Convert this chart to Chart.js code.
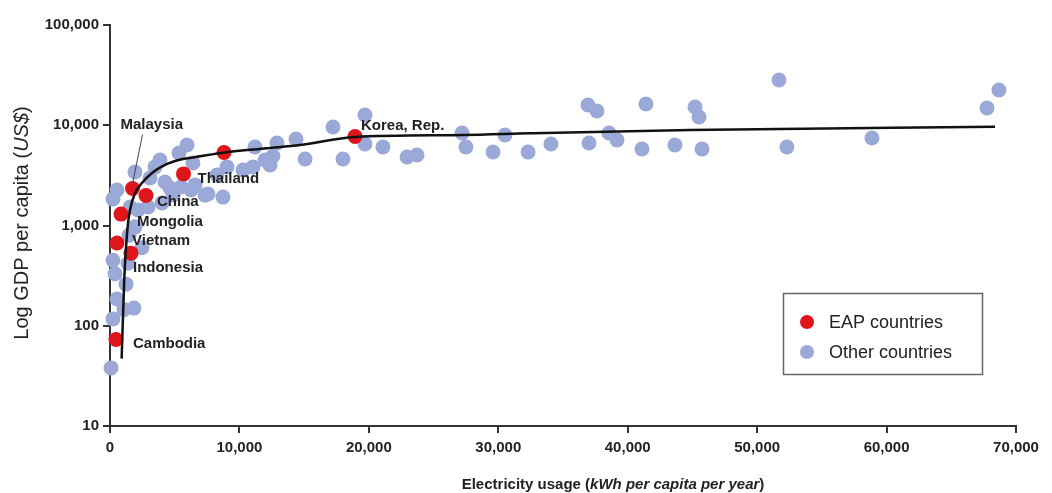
<!DOCTYPE html>
<html>
<head>
<meta charset="utf-8">
<script src="https://cdn.jsdelivr.net/npm/chart.js@4/dist/chart.umd.min.js"></script>
<style>
  body { margin: 0; background: #fff; }
  canvas { display: block; }
</style>
</head>
<body>
<canvas id="myChart" width="1052" height="493"></canvas>
<script>
// data
const eapNames = ['Cambodia', 'Vietnam', 'Indonesia', 'Mongolia', 'Malaysia', 'China', 'Thailand', '', 'Korea, Rep.'];
const eapX = [460, 540, 1620, 850, 1740, 2780, 5680, 8810, 18930];
const eapY = [73, 670, 530, 1300, 2340, 1990, 3270, 5350, 7730];

const otherX = [17230, 18000, 19700, 19700, 21090, 22950, 23720, 27200, 27500, 29590,
  30520, 32300, 34070, 36930, 37630, 37010, 38550, 39170, 41100, 41410,
  43650, 45200, 45510, 45740, 51690, 52300, 58870, 67760, 68680,
  15070, 14370, 12900, 12590, 12360, 11200, 11050, 10280, 8730, 7340,
  8270, 9040, 11980, 5950, 5330, 3860, 3480, 1930, 540, 230,
  1550, 2160, 2940, 4020, 4870, 5490, 6570, 7570, 4250, 6410,
  3090, 4640, 6260, 1930, 1470, 230, 390, 1240, 540, 1850,
  1080, 230, 80, 2470, 1390];
const otherY = [9620, 4600, 12650, 6500, 6070, 4820, 5050, 8380, 6070, 5410,
  8000, 5410, 6500, 15920, 13870, 6650, 8380, 7130, 5800, 16290,
  6350, 15210, 12080, 5800, 28250, 6070, 7460, 14860, 22490,
  4600, 7300, 6650, 4930, 4020, 6070, 3840, 3580, 1920, 2010,
  3190, 3840, 4500, 6350, 5290, 4500, 3840, 3420, 2260, 1840,
  1530, 1430, 1530, 1680, 2010, 2420, 2540, 2060, 2720, 4200,
  2980, 2370, 2260, 970, 800, 450, 330, 260, 185, 150,
  145, 117, 38, 600, 420];

// fitted curve
const fitX = [900, 1100, 1340, 1545, 1930, 2450, 3220, 4250, 5540, 7085, 8885, 12100, 14680, 18930, 27270, 32450, 44800, 68380];
const fitY = [47, 286, 902, 1430, 2094, 2636, 3318, 4018, 4571, 4932, 5346, 5888, 6353, 7650, 7998, 8318, 8974, 9680];

const xTicks = [0, 10000, 20000, 30000, 40000, 50000, 60000, 70000];
const yTicks = [10, 100, 1000, 10000, 100000];

const FONT = '"Liberation Sans", Arial, sans-serif';
const RED = 'rgb(222,22,28)';
const BLUE = 'rgb(155,169,216)';

// label offsets from their dot, in px
const labelOffsets = {
  'Cambodia': [17, 4],
  'Vietnam': [15, -2],
  'Indonesia': [2, 15],
  'Mongolia': [16, 8],
  'Malaysia': [-12, -64],
  'China': [11, 6],
  'Thailand': [14, 5],
  'Korea, Rep.': [6, -11]
};

function pts(xs, ys) {
  return xs.map((v, i) => ({ x: v, y: ys[i] }));
}

const annotate = {
  id: 'annotate',
  afterDatasetsDraw(chart) {
    const { ctx, scales: { x, y } } = chart;
    ctx.save();
    ctx.fillStyle = '#222';
    ctx.font = 'bold 15px ' + FONT;
    ctx.textBaseline = 'middle';
    ctx.textAlign = 'left';
    eapNames.forEach((name, i) => {
      if (!name) return;
      const px = x.getPixelForValue(eapX[i]);
      const py = y.getPixelForValue(eapY[i]);
      const o = labelOffsets[name];
      ctx.fillText(name, px + o[0], py + o[1]);
      if (name === 'Malaysia') {
        ctx.strokeStyle = '#444';
        ctx.lineWidth = 1;
        ctx.beginPath();
        ctx.moveTo(px + 10, py - 54);
        ctx.lineTo(px, py - 5);
        ctx.stroke();
      }
    });
    ctx.restore();
  },
  afterDraw(chart) {
    const ctx = chart.ctx;
    ctx.save();
    ctx.fillStyle = '#222';
    ctx.textBaseline = 'middle';
    ctx.textAlign = 'left';

    // x title
    let parts = [['bold 15px ', 'Electricity usage ('], ['italic bold 15px ', 'kWh per capita per year'], ['bold 15px ', ')']];
    let w = 0;
    parts.forEach(p => { ctx.font = p[0] + FONT; w += ctx.measureText(p[1]).width; });
    let cx = 613 - w / 2;
    parts.forEach(p => { ctx.font = p[0] + FONT; ctx.fillText(p[1], cx, 485); cx += ctx.measureText(p[1]).width; });

    // y title
    ctx.translate(22, 223);
    ctx.rotate(-Math.PI / 2);
    parts = [['20px ', 'Log GDP per capita ('], ['italic 20px ', 'US$'], ['20px ', ')']];
    w = 0;
    parts.forEach(p => { ctx.font = p[0] + FONT; w += ctx.measureText(p[1]).width; });
    cx = -w / 2;
    parts.forEach(p => { ctx.font = p[0] + FONT; ctx.fillText(p[1], cx, 0); cx += ctx.measureText(p[1]).width; });
    ctx.restore();

    // legend box
    ctx.save();
    ctx.strokeStyle = '#666';
    ctx.lineWidth = 1.5;
    ctx.strokeRect(783.5, 293.5, 199, 81);
    const items = [[chart.data.datasets[1].label, RED, 322], [chart.data.datasets[2].label, BLUE, 352]];
    ctx.font = '18px ' + FONT;
    ctx.textBaseline = 'middle';
    items.forEach(it => {
      ctx.fillStyle = it[1];
      ctx.beginPath();
      ctx.arc(807, it[2], 7, 0, Math.PI * 2);
      ctx.fill();
      ctx.fillStyle = '#222';
      ctx.fillText(it[0], 829, it[2] + 1);
    });
    ctx.restore();
  }
};

const ctx = document.getElementById('myChart').getContext('2d');
const myChart = new Chart(ctx, {
  type: 'scatter',
  data: {
    datasets: [{
      type: 'line',
      label: 'Fit',
      data: pts(fitX, fitY),
      borderColor: '#111',
      borderWidth: 2.5,
      pointRadius: 0,
      cubicInterpolationMode: 'monotone',
      fill: false,
      clip: false,
      order: 0
    }, {
      label: 'EAP countries',
      data: pts(eapX, eapY),
      backgroundColor: RED,
      borderWidth: 0,
      pointRadius: 7.5,
      clip: false,
      order: 1
    }, {
      label: 'Other countries',
      data: pts(otherX, otherY),
      backgroundColor: BLUE,
      borderWidth: 0,
      pointRadius: 7.5,
      clip: false,
      order: 2
    }]
  },
  options: {
    responsive: false,
    animation: false,
    devicePixelRatio: 1,
    layout: { padding: { left: 0, right: 36, top: 25, bottom: 0 } },
    plugins: {
      legend: { display: false },
      tooltip: { enabled: false }
    },
    scales: {
      x: {
        type: 'linear',
        min: 0,
        max: 70000,
        afterBuildTicks: s => { s.ticks = xTicks.map(v => ({ value: v })); },
        afterFit: s => { s.height = 67; },
        ticks: {
          padding: 6,
          color: '#222',
          font: { family: FONT, size: 15, weight: 'bold' },
          maxRotation: 0,
          callback: v => v.toLocaleString('en-US')
        },
        grid: { drawOnChartArea: false, drawTicks: true, tickLength: 7, color: '#333', lineWidth: 2 },
        border: { display: true, color: '#333', width: 2 }
      },
      y: {
        type: 'logarithmic',
        min: 10,
        max: 100000,
        afterBuildTicks: s => { s.ticks = yTicks.map(v => ({ value: v })); },
        afterFit: s => { s.width = 110; },
        ticks: {
          padding: 4,
          color: '#222',
          font: { family: FONT, size: 15, weight: 'bold' },
          callback: v => Number(v).toLocaleString('en-US')
        },
        grid: { drawOnChartArea: false, drawTicks: true, tickLength: 7, color: '#333', lineWidth: 2 },
        border: { display: true, color: '#333', width: 2 }
      }
    }
  },
  plugins: [annotate]
});
</script>
</body>
</html>
